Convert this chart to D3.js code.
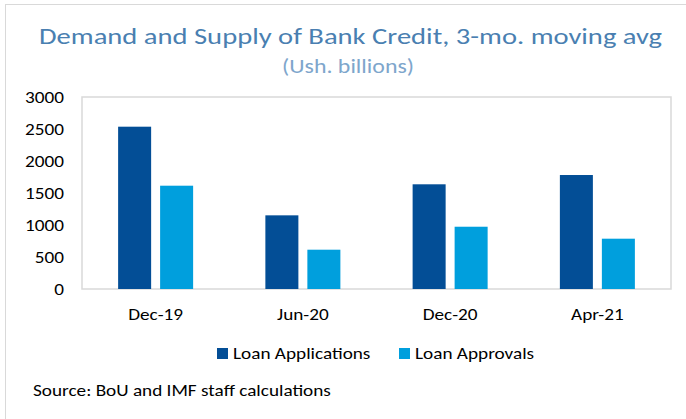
<!DOCTYPE html>
<html>
<head>
<meta charset="utf-8">
<script src="https://cdn.jsdelivr.net/npm/d3@7"></script>
<style>
  body { margin: 0; background: #fff; }
  text { font-family: Carlito, Lato, "Open Sans", sans-serif; }
</style>
</head>
<body>
<script>
// data
var categories = ["Dec-19", "Jun-20", "Dec-20", "Apr-21"];
var seriesNames = ["Loan Applications", "Loan Approvals"];
var applications = [2536, 1151, 1636, 1781];
var approvals = [1614, 614, 973, 786];
var yTicks = [0, 500, 1000, 1500, 2000, 2500, 3000];
var colors = ["#034e96", "#009fdd"];

var W = 686, H = 419;
var plotL = 82, plotR = 671, plotT = 97, plotB = 289;

var svg = d3.select("body").append("svg").attr("width", W).attr("height", H);

// text in the source is drawn a bit wider than Carlito, stretch it
function stretch(sel, k) {
  sel.each(function() {
    var len = this.getComputedTextLength();
    d3.select(this).attr("textLength", len * k).attr("lengthAdjust", "spacingAndGlyphs");
  });
}

// outer frame
svg.append("rect").attr("x", 5.5).attr("y", 4.5).attr("width", W).attr("height", H)
  .attr("fill", "none").attr("stroke", "#d9d9d9");

svg.append("text").attr("x", 350.5).attr("y", 44).attr("text-anchor", "middle")
  .attr("fill", "#4a7fb1").style("font-size", "23px")
  .attr("textLength", 623).attr("lengthAdjust", "spacingAndGlyphs")
  .text("Demand and Supply of Bank Credit, 3-mo. moving avg");
svg.append("text").attr("x", 348).attr("y", 73).attr("text-anchor", "middle")
  .attr("fill", "#7ea6cc").style("font-size", "20px")
  .attr("textLength", 132).attr("lengthAdjust", "spacingAndGlyphs")
  .text("(Ush. billions)");

var x = d3.scaleBand().domain(categories).range([plotL, plotR]);
var xInner = d3.scaleBand().domain([0, 1]).range([0, x.bandwidth()]).paddingInner(0.214).paddingOuter(0.86);
var y = d3.scaleLinear().domain([0, 3000]).range([plotB, plotT]);

svg.append("rect").attr("x", plotL).attr("y", plotT).attr("width", plotR - plotL).attr("height", plotB - plotT)
  .attr("fill", "none").attr("stroke", "#d9d9d9").attr("stroke-width", 1.5);

var rows = categories.map(function(c, i) { return {cat: c, vals: [applications[i], approvals[i]]}; });
var g = svg.selectAll(".grp").data(rows).enter().append("g")
  .attr("transform", function(d) { return "translate(" + x(d.cat) + ",0)"; });
g.selectAll("rect").data(function(d) { return d.vals; }).enter().append("rect")
  .attr("x", function(d, i) { return xInner(i); })
  .attr("y", function(d) { return y(d); })
  .attr("width", xInner.bandwidth())
  .attr("height", function(d) { return y(0) - y(d); })
  .attr("fill", function(d, i) { return colors[i]; });

var yAxis = d3.axisLeft(y).tickValues(yTicks).tickFormat(d3.format("d")).tickSize(0).tickPadding(0);
var yt = svg.append("g").attr("transform", "translate(64,0)").call(yAxis)
  .call(function(a) { a.select(".domain").remove(); })
  .selectAll("text").style("font-size", "17px").attr("fill", "#000")
  .style("font-family", "Carlito, Lato, sans-serif");
stretch(yt, 1.13);

var xAxis = d3.axisBottom(x).tickSize(0).tickPadding(19);
var xt = svg.append("g").attr("transform", "translate(0," + plotB + ")").call(xAxis)
  .call(function(a) { a.select(".domain").remove(); })
  .selectAll("text").style("font-size", "17px").attr("fill", "#000")
  .style("font-family", "Carlito, Lato, sans-serif");
stretch(xt, 1.13);

// legend
var legX = [217, 399];
var leg = svg.selectAll(".leg").data(seriesNames).enter().append("g")
  .attr("transform", function(d, i) { return "translate(" + legX[i] + ",348)"; });
leg.append("rect").attr("width", 11).attr("height", 11).attr("fill", function(d, i) { return colors[i]; });
var lt = leg.append("text").attr("x", 16).attr("y", 11).style("font-size", "17px").attr("fill", "#000")
  .text(function(d) { return d; });
stretch(lt, 1.13);

var src = svg.append("text").attr("x", 33).attr("y", 396).style("font-size", "17px").attr("fill", "#000")
  .text("Source: BoU and IMF staff calculations");
stretch(src, 1.13);
</script>
</body>
</html>
